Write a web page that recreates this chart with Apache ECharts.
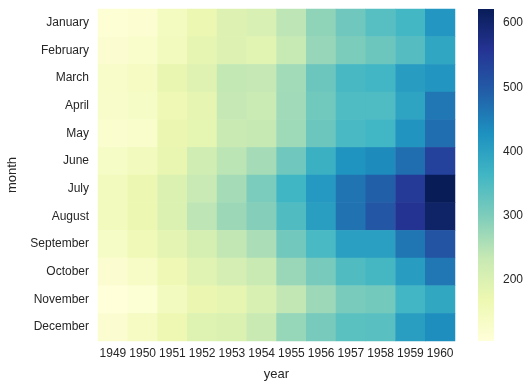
<!DOCTYPE html>
<html>
<head>
<meta charset="utf-8">
<script src="https://cdn.jsdelivr.net/npm/echarts@6/dist/echarts.min.js"></script>
<style>html,body{margin:0;padding:0;background:#fff;}#c{width:532px;height:390px;}</style>
</head>
<body>
<div id="c"></div>
<script>
const years = ['1949','1950','1951','1952','1953','1954','1955','1956','1957','1958','1959','1960'];
const months = ['January','February','March','April','May','June','July','August','September','October','November','December'];
// passengers[monthIndex][yearIndex]
const jan = [112,115,145,171,196,204,242,284,315,340,360,417];
const feb = [118,126,150,180,196,188,233,277,301,318,342,391];
const mar = [132,141,178,193,236,235,267,317,356,362,406,419];
const apr = [129,135,163,181,235,227,269,313,348,348,396,461];
const may = [121,125,172,183,229,234,270,318,355,363,420,472];
const jun = [135,149,178,218,243,264,315,374,422,435,472,535];
const jul = [148,170,199,230,264,302,364,413,465,491,548,622];
const aug = [148,170,199,242,272,293,347,405,467,505,559,606];
const sep = [136,158,184,209,237,259,312,355,404,404,463,508];
const oct = [119,133,162,191,211,229,274,306,347,359,407,461];
const nov = [104,114,146,172,180,203,237,271,305,310,362,390];
const dec = [118,140,166,194,201,229,278,306,336,337,405,432];
const passengers = [jan,feb,mar,apr,may,jun,jul,aug,sep,oct,nov,dec];
const colorbarTicks = [200,300,400,500,600];
const vMin = 104, vMax = 622;

const palette = ['#ffffd9','#edf8b1','#c7e9b4','#7fcdbb','#41b6c4','#1d91c0','#225ea8','#253494','#081d58'];

const data = [];
passengers.forEach((row, m) => row.forEach((v, y) => data.push([y, m, v])));

const txt = '#262626';
const chart = echarts.init(document.getElementById('c'), null, {renderer:'canvas'});
chart.setOption({
  animation: false,
  backgroundColor: '#fff',
  textStyle: {fontFamily: 'Liberation Sans, Arial, sans-serif'},
  grid: [
    {left: 98, top: 9, width: 357, height: 332, outerBoundsMode: 'none', containLabel: false},
    {left: 478, top: 9, width: 16, height: 332, outerBoundsMode: 'none', containLabel: false}
  ],
  xAxis: [
    {type: 'category', data: years, gridIndex: 0,
     name: 'year', nameLocation: 'middle', nameGap: 27,
     nameTextStyle: {color: txt, fontSize: 13},
     axisLine: {show: false}, axisTick: {show: false}, splitLine: {show: false},
     axisLabel: {color: txt, fontSize: 12, margin: 7, interval: 0}},
    {type: 'value', gridIndex: 1, show: false, min: 0, max: 1}
  ],
  yAxis: [
    {type: 'category', data: months, gridIndex: 0, inverse: true,
     name: 'month', nameLocation: 'middle', nameGap: 79, nameRotate: 90,
     nameTextStyle: {color: txt, fontSize: 13},
     axisLine: {show: false}, axisTick: {show: false}, splitLine: {show: false},
     axisLabel: {color: txt, fontSize: 12, margin: 9, interval: 0}},
    {type: 'value', gridIndex: 1, position: 'right', min: vMin, max: vMax,
     axisLine: {show: false}, axisTick: {show: false}, splitLine: {show: false},
     axisLabel: {color: txt, fontSize: 12, margin: 9, customValues: colorbarTicks}}
  ],
  visualMap: {
    type: 'continuous', min: vMin, max: vMax, calculable: false, seriesIndex: 0,
    show: false,
    inRange: {color: palette}
  },
  graphic: [{
    type: 'rect', left: 478, top: 9, silent: true,
    shape: {width: 16, height: 332},
    style: {fill: new echarts.graphic.LinearGradient(0, 1, 0, 0,
      palette.map((c, i) => ({offset: i / (palette.length - 1), color: c})))}
  }],
  series: [
    {type: 'heatmap', xAxisIndex: 0, yAxisIndex: 0, data: data,
     itemStyle: {borderWidth: 0}, emphasis: {disabled: true}},
    {type: 'scatter', xAxisIndex: 1, yAxisIndex: 1, data: [], silent: true}
  ]
});
</script>
</body>
</html>
